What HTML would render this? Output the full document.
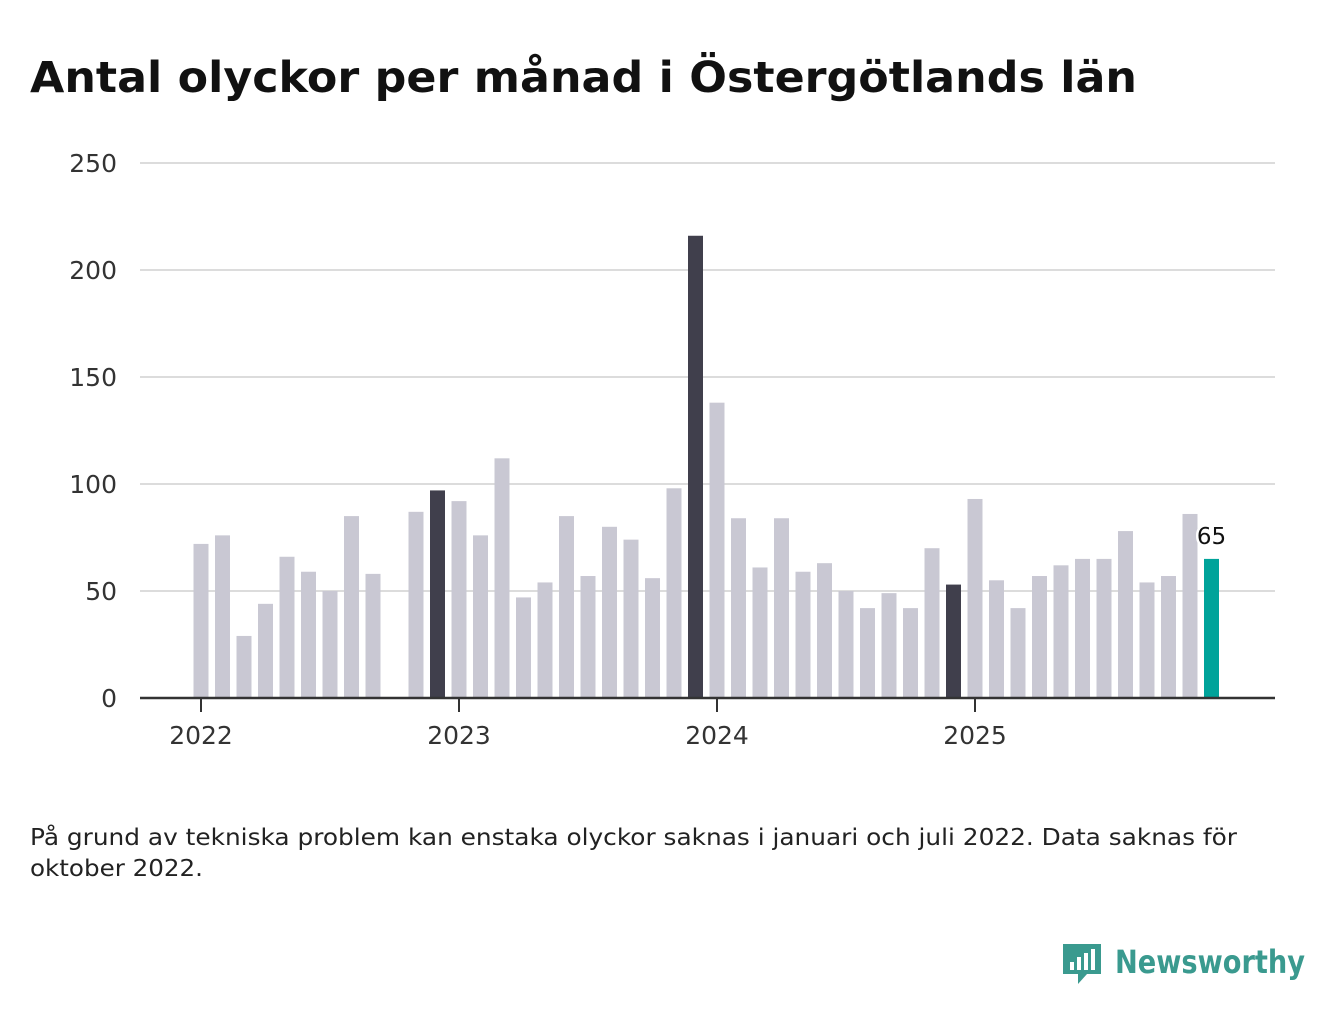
<!DOCTYPE html>
<html><head><meta charset="utf-8">
<style>
body{margin:0;width:1340px;height:1020px;background:#fff;font-family:"DejaVu Sans","Liberation Sans",sans-serif;overflow:hidden}
svg text{font-family:"DejaVu Sans","Liberation Sans",sans-serif}
</style></head>
<body>
<svg width="1340" height="1020" style="position:absolute;left:0;top:0">
<text x="30" y="92" font-size="43" font-weight="bold" fill="#111" textLength="1107" lengthAdjust="spacingAndGlyphs">Antal olyckor per månad i Östergötlands län</text>
<g id="grid"></g>
<g id="bars"></g>
<g id="xaxis"></g>
<text x="30" y="845" font-size="23" fill="#222" textLength="1207" lengthAdjust="spacingAndGlyphs">På grund av tekniska problem kan enstaka olyckor saknas i januari och juli 2022. Data saknas för</text>
<text x="30" y="876" font-size="23" fill="#222" textLength="173" lengthAdjust="spacingAndGlyphs">oktober 2022.</text>
<g>
<path d="M1063 944 h38 v30 h-14 l-9 10 v-10 h-15 z" fill="#3a9a8f"/>
<rect x="1070" y="962" width="4" height="8" fill="#fff"/>
<rect x="1077" y="957" width="4" height="13" fill="#fff"/>
<rect x="1084" y="953" width="4" height="17" fill="#fff"/>
<rect x="1091" y="949" width="4" height="21" fill="#fff"/>
<text x="1115" y="973" font-size="32" font-weight="bold" fill="#3a9a8f" textLength="190" lengthAdjust="spacingAndGlyphs">Newsworthy</text>
</g>
</svg>
<script>
const yTicks=[0,50,100,150,200,250];
const years=["2022","2023","2024","2025"];
const values=[72,76,29,44,66,59,50,85,58,null,87,97,92,76,112,47,54,85,57,80,74,56,98,216,138,84,61,84,59,63,50,42,49,42,70,53,93,55,42,57,62,65,65,78,54,57,86,65];
const highlight=[11,23,35];
const NS="http://www.w3.org/2000/svg";
const y=v=>698-v*2.14;
const x=i=>201+i*21.5;
function mk(t,a,p){const e=document.createElementNS(NS,t);for(const k in a)e.setAttribute(k,a[k]);p.appendChild(e);return e;}
const grid=document.getElementById('grid'),bars=document.getElementById('bars'),xa=document.getElementById('xaxis');
yTicks.forEach(t=>{
 if(t>0){const l=mk('line',{x1:140,x2:1275,y1:y(t),y2:y(t),stroke:'#dcdcdc','stroke-width':2},grid);
 
 }
 const tx=mk('text',{x:117,y:y(t)+9,'font-size':25,fill:'#333','text-anchor':'end'},grid);tx.textContent=t;
 
 
});
values.forEach((v,i)=>{
 if(v==null)return;
 const last=i===values.length-1;
 const c=last?'#00a39a':(highlight.includes(i)?'#403f4c':'#c9c8d3');
 const r=mk('rect',{x:x(i)-7.5,y:y(v),width:15,height:v*2.14,fill:c},bars);
 
 
 if(last){const t=mk('text',{x:x(i),y:y(v)-15,'font-size':23,fill:'#111','text-anchor':'middle',stroke:'#fff','stroke-width':5,'paint-order':'stroke'},bars);t.textContent=v;
 
 }
});
const ax=mk('line',{x1:140,x2:1275,y1:698,y2:698,stroke:'#333','stroke-width':2.5},xa);


years.forEach((yr,k)=>{
 const px=x(k*12);
 mk('line',{x1:px,x2:px,y1:698,y2:712,stroke:'#333','stroke-width':2},xa);
 const t=mk('text',{x:px,y:744,'font-size':25,fill:'#333','text-anchor':'middle'},xa);t.textContent=yr;
 
 
});
</script>
</body></html>
